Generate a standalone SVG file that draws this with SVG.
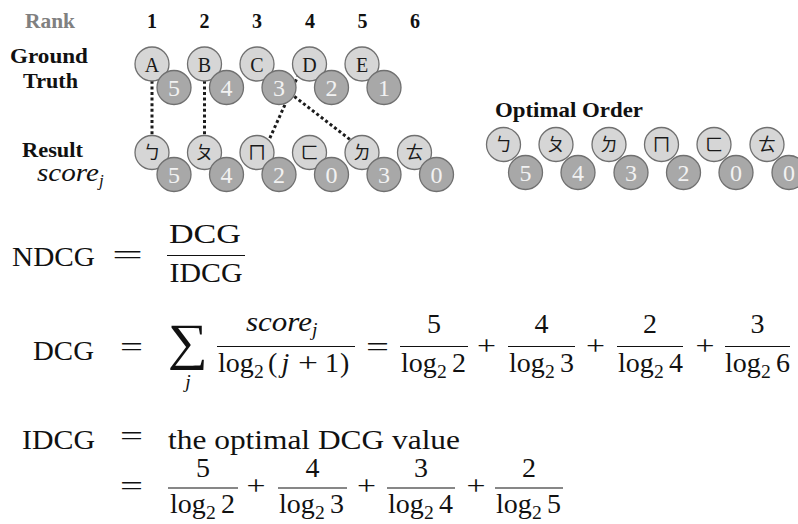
<svg xmlns="http://www.w3.org/2000/svg" width="798" height="524" viewBox="0 0 798 524">
  <style>
    .lbl { font-family: "Liberation Serif", "DejaVu Serif", serif; font-weight: bold; font-size: 21px; fill: #111; }
    .rank { fill: #808080; }
    .num { text-anchor: middle; font-size: 20px; }
    .top { fill: #d6d6d6; stroke: #707070; stroke-width: 1.3; }
    .sc { fill: #a8a8a8; stroke: #707070; stroke-width: 1.3; }
    .let { font-family: "Liberation Serif", "DejaVu Serif", serif; font-size: 20px; fill: #1a1a1a; text-anchor: middle; }
    .scv { font-family: "Liberation Serif", "DejaVu Serif", serif; font-size: 24px; fill: #f2f2f2; text-anchor: middle; }
    .bp { font-family: "Noto Sans CJK TC", "Noto Sans CJK SC", sans-serif; font-size: 18px; fill: #1a1a1a; text-anchor: middle; }
    .dot { stroke: #1c1c1c; stroke-width: 3; stroke-dasharray: 3 2.6; fill: none; }
    .m { font-family: "Liberation Serif", "DejaVu Serif", serif; font-size: 28px; fill: #111; }
    .mc { text-anchor: middle; }
    .it { font-style: italic; }
    .sub { font-size: 19.6px; }
    .bar { stroke: #111; stroke-width: 1.2; }
  </style>

  <!-- row labels -->
  <g id="labels">
    <text class="lbl rank" x="50" y="28" text-anchor="middle" textLength="50" lengthAdjust="spacingAndGlyphs">Rank</text>
    <text class="lbl num" x="152" y="28">1</text>
    <text class="lbl num" x="204.5" y="28">2</text>
    <text class="lbl num" x="257" y="28">3</text>
    <text class="lbl num" x="310" y="28">4</text>
    <text class="lbl num" x="362.5" y="28">5</text>
    <text class="lbl num" x="415" y="28">6</text>
    <text class="lbl" x="10" y="63" textLength="78" lengthAdjust="spacingAndGlyphs">Ground</text>
    <text class="lbl" x="23" y="88" textLength="55" lengthAdjust="spacingAndGlyphs">Truth</text>
    <text class="lbl" x="22" y="157" textLength="61" lengthAdjust="spacingAndGlyphs">Result</text>
    <text class="m it" x="37" y="181" style="font-size:25px"><tspan textLength="62" lengthAdjust="spacingAndGlyphs">score</tspan><tspan style="font-size:17px" dy="5">j</tspan></text>
    <text class="lbl" x="495" y="117" textLength="148" lengthAdjust="spacingAndGlyphs">Optimal Order</text>
  </g>

  <!-- matching links between ground truth and result -->
  <g id="connectors">
    <line class="dot" x1="152" y1="64" x2="152" y2="152"/>
    <line class="dot" x1="204.5" y1="64" x2="204.5" y2="152"/>
    <line class="dot" x1="303.3" y1="64" x2="263.6" y2="152"/>
    <line class="dot" x1="281" y1="86.2" x2="362" y2="148.8"/>
  </g>

  <!-- ground truth -->
  <g id="gt-E"><circle class="top" cx="362" cy="64" r="17"/><text class="let" x="362" y="71.5">E</text><circle class="sc" cx="384" cy="87.5" r="17"/><text class="scv" x="384" y="95.5">1</text></g>
  <g id="gt-D"><circle class="top" cx="309.5" cy="64" r="17"/><text class="let" x="309.5" y="71.5">D</text><circle class="sc" cx="331.5" cy="87.5" r="17"/><text class="scv" x="331.5" y="95.5">2</text></g>
  <g id="gt-C"><circle class="top" cx="257" cy="64" r="17"/><text class="let" x="257" y="71.5">C</text><circle class="sc" cx="279" cy="87.5" r="17"/><text class="scv" x="279" y="95.5">3</text></g>
  <g id="gt-B"><circle class="top" cx="204.5" cy="64" r="17"/><text class="let" x="204.5" y="71.5">B</text><circle class="sc" cx="226.5" cy="87.5" r="17"/><text class="scv" x="226.5" y="95.5">4</text></g>
  <g id="gt-A"><circle class="top" cx="152" cy="64" r="17"/><text class="let" x="152" y="71.5">A</text><circle class="sc" cx="174" cy="87.5" r="17"/><text class="scv" x="174" y="95.5">5</text></g>

  <!-- result ranking -->
  <g id="res-6"><circle class="top" cx="414.5" cy="152.5" r="17"/><text class="bp" x="414.5" y="158.5">ㄊ</text><circle class="sc" cx="436.5" cy="174.5" r="17"/><text class="scv" x="436.5" y="182.5">0</text></g>
  <g id="res-5"><circle class="top" cx="362" cy="152.5" r="17"/><text class="bp" x="362" y="158.5">ㄉ</text><circle class="sc" cx="384" cy="174.5" r="17"/><text class="scv" x="384" y="182.5">3</text></g>
  <g id="res-4"><circle class="top" cx="309.5" cy="152.5" r="17"/><text class="bp" x="309.5" y="158.5">ㄈ</text><circle class="sc" cx="331.5" cy="174.5" r="17"/><text class="scv" x="331.5" y="182.5">0</text></g>
  <g id="res-3"><circle class="top" cx="257" cy="152.5" r="17"/><text class="bp" x="257" y="158.5">ㄇ</text><circle class="sc" cx="279" cy="174.5" r="17"/><text class="scv" x="279" y="182.5">2</text></g>
  <g id="res-2"><circle class="top" cx="204.5" cy="152.5" r="17"/><text class="bp" x="204.5" y="158.5">ㄆ</text><circle class="sc" cx="226.5" cy="174.5" r="17"/><text class="scv" x="226.5" y="182.5">4</text></g>
  <g id="res-1"><circle class="top" cx="152" cy="152.5" r="17"/><text class="bp" x="152" y="158.5">ㄅ</text><circle class="sc" cx="174" cy="174.5" r="17"/><text class="scv" x="174" y="182.5">5</text></g>

  <!-- optimal ordering -->
  <g id="opt-6"><circle class="top" cx="767" cy="144.5" r="17"/><text class="bp" x="767" y="150.5">ㄊ</text><circle class="sc" cx="789" cy="172.5" r="17"/><text class="scv" x="789" y="180.5">0</text></g>
  <g id="opt-5"><circle class="top" cx="714" cy="144.5" r="17"/><text class="bp" x="714" y="150.5">ㄈ</text><circle class="sc" cx="736" cy="172.5" r="17"/><text class="scv" x="736" y="180.5">0</text></g>
  <g id="opt-4"><circle class="top" cx="661.5" cy="144.5" r="17"/><text class="bp" x="661.5" y="150.5">ㄇ</text><circle class="sc" cx="683.5" cy="172.5" r="17"/><text class="scv" x="683.5" y="180.5">2</text></g>
  <g id="opt-3"><circle class="top" cx="609" cy="144.5" r="17"/><text class="bp" x="609" y="150.5">ㄉ</text><circle class="sc" cx="631" cy="172.5" r="17"/><text class="scv" x="631" y="180.5">3</text></g>
  <g id="opt-2"><circle class="top" cx="556" cy="144.5" r="17"/><text class="bp" x="556" y="150.5">ㄆ</text><circle class="sc" cx="578" cy="172.5" r="17"/><text class="scv" x="578" y="180.5">4</text></g>
  <g id="opt-1"><circle class="top" cx="503.5" cy="144.5" r="17"/><text class="bp" x="503.5" y="150.5">ㄅ</text><circle class="sc" cx="525.5" cy="172.5" r="17"/><text class="scv" x="525.5" y="180.5">5</text></g>

  <!-- NDCG = DCG / IDCG -->
  <g id="eq-ndcg">
    <text class="m" x="12" y="266" textLength="83" lengthAdjust="spacingAndGlyphs">NDCG</text>
    <text class="m" x="112" y="264" textLength="31" lengthAdjust="spacingAndGlyphs">=</text>
    <text class="m mc" x="205" y="243" textLength="72" lengthAdjust="spacingAndGlyphs">DCG</text>
    <line class="bar" x1="167" y1="255.5" x2="245" y2="255.5"/>
    <text class="m mc" x="206" y="282" textLength="73" lengthAdjust="spacingAndGlyphs">IDCG</text>
  </g>

  <!-- DCG definition -->
  <g id="eq-dcg">
    <text class="m" x="33" y="360" textLength="61" lengthAdjust="spacingAndGlyphs">DCG</text>
    <text class="m" x="120" y="356" textLength="23" lengthAdjust="spacingAndGlyphs">=</text>
    <text class="m" x="168" y="359" style="font-size:51px" textLength="40" lengthAdjust="spacingAndGlyphs">∑</text>
    <text class="m it sub mc" x="188" y="388">j</text>
    <text class="m it" x="246" y="331"><tspan textLength="66" lengthAdjust="spacingAndGlyphs">score</tspan><tspan class="sub" dy="5">j</tspan></text>
    <line class="bar" x1="217" y1="346.5" x2="355" y2="346.5"/>
    <text class="m" y="371.5"><tspan x="218">log</tspan><tspan class="sub" x="254" y="377.5">2</tspan><tspan x="268" y="371.5">(</tspan><tspan class="it" x="281.5">j</tspan><tspan x="298" textLength="20" lengthAdjust="spacingAndGlyphs">+</tspan><tspan x="325">1</tspan><tspan x="340">)</tspan></text>
    <text class="m" x="366" y="356" textLength="23" lengthAdjust="spacingAndGlyphs">=</text>

    <text class="m mc" x="434" y="333">5</text>
    <line class="bar" x1="400" y1="346.5" x2="468" y2="346.5"/>
    <text class="m" y="371.5"><tspan x="401">log</tspan><tspan class="sub" x="437" y="377.5">2</tspan><tspan x="452" y="371.5">2</tspan></text>
    <text class="m" x="477" y="355" textLength="19" lengthAdjust="spacingAndGlyphs">+</text>

    <text class="m mc" x="541.5" y="333">4</text>
    <line class="bar" x1="508" y1="346.5" x2="575" y2="346.5"/>
    <text class="m" y="371.5"><tspan x="509">log</tspan><tspan class="sub" x="545" y="377.5">2</tspan><tspan x="560" y="371.5">3</tspan></text>
    <text class="m" x="586" y="355" textLength="19" lengthAdjust="spacingAndGlyphs">+</text>

    <text class="m mc" x="650" y="333">2</text>
    <line class="bar" x1="617" y1="346.5" x2="683" y2="346.5"/>
    <text class="m" y="371.5"><tspan x="618">log</tspan><tspan class="sub" x="654" y="377.5">2</tspan><tspan x="669" y="371.5">4</tspan></text>
    <text class="m" x="695.5" y="355" textLength="19" lengthAdjust="spacingAndGlyphs">+</text>

    <text class="m mc" x="757.5" y="333">3</text>
    <line class="bar" x1="725" y1="346.5" x2="790" y2="346.5"/>
    <text class="m" y="371.5"><tspan x="725">log</tspan><tspan class="sub" x="761" y="377.5">2</tspan><tspan x="776" y="371.5">6</tspan></text>
  </g>

  <!-- IDCG definition -->
  <g id="eq-idcg">
    <text class="m" x="22" y="449" textLength="73" lengthAdjust="spacingAndGlyphs">IDCG</text>
    <text class="m" x="120" y="445" textLength="23" lengthAdjust="spacingAndGlyphs">=</text>
    <text class="m" x="168" y="449" textLength="292" lengthAdjust="spacingAndGlyphs">the optimal DCG value</text>

    <text class="m" x="120" y="495" textLength="23" lengthAdjust="spacingAndGlyphs">=</text>

    <text class="m mc" x="203" y="477">5</text>
    <line class="bar" x1="168" y1="488" x2="238" y2="488"/>
    <text class="m" y="513"><tspan x="170">log</tspan><tspan class="sub" x="206" y="519">2</tspan><tspan x="221" y="513">2</tspan></text>
    <text class="m" x="246.5" y="494.5" textLength="19" lengthAdjust="spacingAndGlyphs">+</text>

    <text class="m mc" x="312.5" y="477">4</text>
    <line class="bar" x1="278" y1="488" x2="347" y2="488"/>
    <text class="m" y="513"><tspan x="279">log</tspan><tspan class="sub" x="315" y="519">2</tspan><tspan x="330" y="513">3</tspan></text>
    <text class="m" x="357" y="494.5" textLength="19" lengthAdjust="spacingAndGlyphs">+</text>

    <text class="m mc" x="421" y="477">3</text>
    <line class="bar" x1="387" y1="488" x2="455" y2="488"/>
    <text class="m" y="513"><tspan x="388">log</tspan><tspan class="sub" x="424" y="519">2</tspan><tspan x="439" y="513">4</tspan></text>
    <text class="m" x="466.5" y="494.5" textLength="19" lengthAdjust="spacingAndGlyphs">+</text>

    <text class="m mc" x="529" y="477">2</text>
    <line class="bar" x1="495" y1="488" x2="563" y2="488"/>
    <text class="m" y="513"><tspan x="496">log</tspan><tspan class="sub" x="532" y="519">2</tspan><tspan x="547" y="513">5</tspan></text>
  </g>
</svg>
